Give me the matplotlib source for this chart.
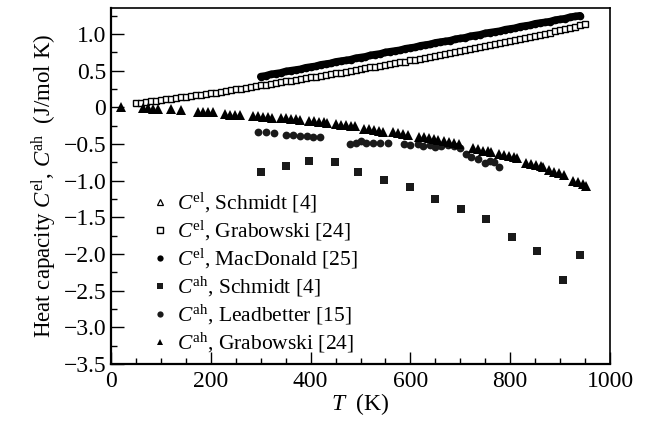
import numpy as np
import matplotlib
matplotlib.use("Agg")
import matplotlib.pyplot as plt
from matplotlib.ticker import MultipleLocator, FixedLocator

plt.rcParams['font.family'] = ['Liberation Serif', 'DejaVu Serif']
plt.rcParams['mathtext.fontset'] = 'custom'
plt.rcParams['mathtext.rm'] = 'Liberation Serif'
plt.rcParams['mathtext.it'] = 'Liberation Serif:italic'

# --- data ---
# C^el, Grabowski [24] (open squares), T = 50..950 K every 10 K
T_el_grab = np.arange(50, 951, 10)
C_el_grab = [0.06, 0.065, 0.07, 0.08, 0.09, 0.10, 0.11, 0.12, 0.13, 0.135,
             0.145, 0.155, 0.165, 0.175, 0.18, 0.19, 0.20, 0.21, 0.22, 0.235,
             0.245, 0.255, 0.265, 0.28, 0.29, 0.30, 0.31, 0.32, 0.33, 0.345,
             0.355, 0.365, 0.375, 0.39, 0.40, 0.41, 0.42, 0.43, 0.44, 0.455,
             0.465, 0.475, 0.485, 0.50, 0.51, 0.52, 0.53, 0.545, 0.555, 0.565,
             0.58, 0.59, 0.60, 0.615, 0.625, 0.64, 0.65, 0.665, 0.675, 0.69,
             0.70, 0.715, 0.73, 0.74, 0.755, 0.77, 0.78, 0.795, 0.81, 0.82,
             0.835, 0.85, 0.86, 0.875, 0.89, 0.90, 0.915, 0.93, 0.945, 0.96,
             0.975, 0.99, 1.005, 1.02, 1.035, 1.05, 1.07, 1.085, 1.10, 1.12, 1.14]

# C^el, MacDonald [25] (filled circles, dense band), T = 300..940 K
T_el_macd = np.arange(300, 941, 10)
C_el_macd = [0.42, 0.43, 0.45, 0.46, 0.47, 0.49, 0.50, 0.51, 0.52, 0.54,
             0.55, 0.56, 0.58, 0.59, 0.60, 0.62, 0.63, 0.64, 0.65, 0.67,
             0.68, 0.69, 0.71, 0.72, 0.73, 0.75, 0.76, 0.77, 0.78, 0.80,
             0.81, 0.82, 0.84, 0.85, 0.86, 0.88, 0.89, 0.90, 0.91, 0.93,
             0.94, 0.95, 0.97, 0.98, 0.99, 1.01, 1.02, 1.03, 1.04, 1.06,
             1.07, 1.08, 1.10, 1.11, 1.12, 1.14, 1.15, 1.16, 1.17, 1.19,
             1.20, 1.21, 1.23, 1.24, 1.25]

# C^el, Schmidt [4] (open triangles) - hidden under the other series
T_el_schm = []
C_el_schm = []

# C^ah, Schmidt [4] (filled squares)
T_ah_schm = [300, 351, 397, 449, 495, 547, 599, 649, 701, 751, 803, 854, 906, 940]
C_ah_schm = [-0.88, -0.80, -0.73, -0.75, -0.88, -0.99, -1.09, -1.25, -1.38,
             -1.52, -1.77, -1.96, -2.36, -2.01]

# C^ah, Leadbetter [15] (filled circles)
T_ah_lead = [295, 310, 327, 350, 364, 378, 392, 405, 418,
             478, 490, 500, 512, 525, 540, 555,
             588, 600, 615, 625, 640, 650, 662, 675, 688, 700,
             712, 722, 735, 750, 760, 768, 778]
C_ah_lead = [-0.33, -0.33, -0.35, -0.38, -0.38, -0.39, -0.39, -0.40, -0.40,
             -0.50, -0.49, -0.46, -0.48, -0.49, -0.49, -0.49,
             -0.50, -0.52, -0.50, -0.53, -0.52, -0.54, -0.53, -0.52, -0.53, -0.55,
             -0.63, -0.68, -0.70, -0.76, -0.73, -0.75, -0.81]

# C^ah, Grabowski [24] (filled triangles)
T_ah_grab = [20, 65, 75, 85, 95, 120, 140,
             175, 185, 195, 205, 228, 238, 248, 258,
             285, 295, 305, 315, 322, 340, 350, 360, 370, 378,
             397, 407, 417, 427, 433, 450, 460, 470, 480, 488,
             507, 517, 527, 537, 545, 565, 575, 585, 595,
             617, 627, 637, 647, 655, 667, 677, 687, 697,
             725, 735, 745, 755, 762, 777, 787, 797, 807, 813,
             832, 842, 852, 862, 866, 878, 888, 898, 908,
             926, 936, 946, 952]
C_ah_grab = [0.01, -0.01, -0.01, -0.02, -0.02, -0.02, -0.03,
             -0.06, -0.06, -0.07, -0.07, -0.09, -0.10, -0.10, -0.11,
             -0.12, -0.12, -0.13, -0.13, -0.14, -0.15, -0.15, -0.16, -0.16, -0.17,
             -0.19, -0.19, -0.20, -0.20, -0.21, -0.23, -0.24, -0.24, -0.25, -0.26,
             -0.29, -0.30, -0.31, -0.32, -0.33, -0.34, -0.35, -0.37, -0.38,
             -0.40, -0.41, -0.42, -0.43, -0.44, -0.46, -0.47, -0.49, -0.50,
             -0.56, -0.57, -0.59, -0.60, -0.61, -0.64, -0.65, -0.67, -0.68, -0.69,
             -0.76, -0.77, -0.79, -0.80, -0.81, -0.86, -0.88, -0.90, -0.92,
             -1.00, -1.02, -1.05, -1.07]

y_ticks = [1.0, 0.5, 0, -0.5, -1.0, -1.5, -2.0, -2.5, -3.0, -3.5]
y_tick_labels = ['1.0', '0.5', '0', '\u22120.5', '\u22121.0', '\u22121.5',
                 '\u22122.0', '\u22122.5', '\u22123.0', '\u22123.5']

# --- figure ---
fig = plt.figure(figsize=(6.47, 4.28), dpi=100)
ax = fig.add_axes([0.1716, 0.1495, 0.7712, 0.8318])

ax.plot(T_el_schm, C_el_schm, '^', ms=4, mfc='white', mec='black', mew=0.9,
        label=r'$C^{\mathrm{el}}$, Schmidt [4]')
ax.plot(T_el_grab, C_el_grab, 's', ms=4.4, mfc='white', mec='black', mew=1.0,
        label=r'$C^{\mathrm{el}}$, Grabowski [24]')
# the MacDonald points are so dense that they merge into a solid band
ax.plot(T_el_macd, C_el_macd, '-', lw=5.4, color='black',
        solid_capstyle='round')
ax.plot(T_el_macd, C_el_macd, 'o', ms=5.5, color='black', mew=0,
        label=r'$C^{\mathrm{el}}$, MacDonald [25]')
ax.plot(T_ah_schm, C_ah_schm, 's', ms=6.2, color='#1a1a1a', mew=0,
        label=r'$C^{\mathrm{ah}}$, Schmidt [4]')
ax.plot(T_ah_lead, C_ah_lead, 'o', ms=5.6, color='#1a1a1a', mew=0,
        label=r'$C^{\mathrm{ah}}$, Leadbetter [15]')
ax.plot(T_ah_grab, C_ah_grab, '^', ms=7.8, color='black', mew=0,
        label=r'$C^{\mathrm{ah}}$, Grabowski [24]')

ax.set_xlim(0, 1000)
ax.set_ylim(-3.5, 1.355)
ax.xaxis.set_major_locator(MultipleLocator(200))
ax.xaxis.set_minor_locator(MultipleLocator(50))
ax.yaxis.set_major_locator(FixedLocator(y_ticks))
ax.set_yticklabels(y_tick_labels)
ax.yaxis.set_minor_locator(MultipleLocator(0.25))
ax.tick_params(which='both', direction='in', top=False, right=False,
               labelsize=17, width=1.0)
ax.tick_params(which='major', length=9)
ax.tick_params(which='minor', length=4.5)
ax.tick_params(axis='x', pad=5)
for s in ax.spines.values():
    s.set_linewidth(1.2)
ax.spines['left'].set_linewidth(1.6)
ax.spines['bottom'].set_linewidth(1.6)

ax.set_xlabel(r'$T$  (K)', fontsize=17, labelpad=-1)
ax.set_ylabel(r'Heat capacity $C^{\mathrm{el}}$, $C^{\mathrm{ah}}$  (J/mol K)',
              fontsize=16.5, labelpad=3)

leg = ax.legend(loc='lower left', bbox_to_anchor=(0.055, -0.018), frameon=False,
                fontsize=15.5, handlelength=0.6, handletextpad=0.5,
                labelspacing=0.18, borderpad=0.2)
for h in leg.legend_handles:
    h.set_markersize(4.5)

fig.savefig('out.png', dpi=100)
